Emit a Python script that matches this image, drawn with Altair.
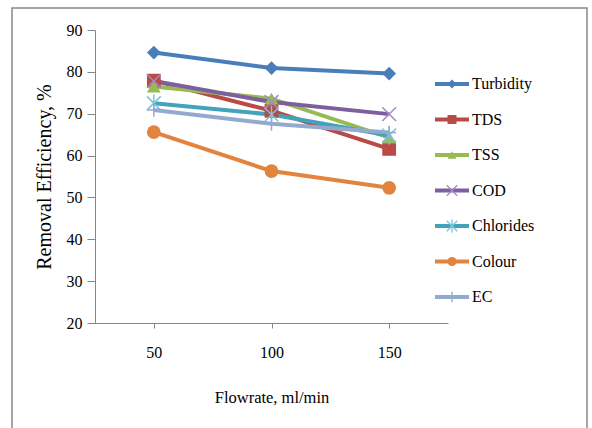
import altair as alt
import pandas as pd

# ---- data ----
flowrates = [50, 100, 150]
series = ["Turbidity", "TDS", "TSS", "COD", "Chlorides", "Colour", "EC"]
turbidity = [84.6, 80.9, 79.6]
tds = [77.9, 70.7, 61.6]
tss = [76.5, 73.6, 64.3]
cod = [77.8, 72.8, 69.9]
chlorides = [72.5, 69.8, 64.8]
colour = [65.6, 56.3, 52.3]
ec = [70.9, 67.6, 65.5]
y_ticks = [20, 30, 40, 50, 60, 70, 80, 90]

values = [turbidity, tds, tss, cod, chlorides, colour, ec]
rows = []
for s, vals in zip(series, values):
    for f, v in zip(flowrates, vals):
        rows.append({"series": s, "flow": f, "eff": v})
df = pd.DataFrame(rows)
legend_df = pd.DataFrame({"series": series})

# ---- styles ----
FONT = "Liberation Serif"
line_colors = ["#4A7EBB", "#B84A47", "#98B954", "#7D5FA0", "#43A2BC", "#E2843E", "#93A9D0"]
marker_colors = ["#4A7EBB", "#B84A47", "#98B954", "#A08CC4", "#7CC4DA", "#E2843E", "#93A9D0"]
X_PATH = "M-1,-1L1,1M-1,1L1,-1"
AST_PATH = "M-1,-1L1,1M-1,1L1,-1M0,-1.3L0,1.3"
PLUS_PATH = "M0,-1L0,1M-1,0L1,0"
shapes = ["diamond", "square", "triangle-up", X_PATH, AST_PATH, "circle", PLUS_PATH]
filled_series = ["Turbidity", "TDS", "TSS", "Colour"]
stroked_series = ["COD", "Chlorides", "EC"]

color_scale = alt.Scale(domain=series, range=line_colors)
stroke_scale = alt.Scale(domain=series, range=marker_colors)
shape_scale = alt.Scale(domain=series, range=shapes)

x_scale = alt.Scale(type="point", padding=0.5)
y_scale = alt.Scale(domain=[20, 90], nice=False, zero=False)

x_axis = alt.Axis(
    title="Flowrate, ml/min", labelAngle=0, tickSize=5, labelPadding=16,
    labelFontSize=16, labelFont=FONT, labelColor="black",
    titleFont=FONT, titleFontSize=16.5, titleFontWeight="normal", titleColor="black",
    titleX=176.5, titleY=74, titleAlign="center", titleBaseline="middle",
    domainColor="#868686", tickColor="#868686", grid=False,
)
y_axis = alt.Axis(
    title="Removal Efficiency, %", values=y_ticks, tickSize=8, labelPadding=5,
    labelFontSize=16, labelFont=FONT, labelColor="black",
    titleFont=FONT, titleFontSize=20, titleFontWeight="normal", titleColor="black",
    titleX=-51, titleY=146.5, titleAngle=270, titleAlign="center", titleBaseline="middle",
    domainColor="#868686", tickColor="#868686", grid=False,
)
x_enc = alt.X("flow:O", scale=x_scale, axis=x_axis)
y_enc = alt.Y("eff:Q", scale=y_scale, axis=y_axis)

lines = alt.Chart(df).mark_line(strokeWidth=4).encode(
    x=x_enc, y=y_enc,
    color=alt.Color("series:N", scale=color_scale, legend=None),
    detail="series:N",
)
pts_filled = alt.Chart(df).transform_filter(
    alt.FieldOneOfPredicate(field="series", oneOf=filled_series)
).mark_point(filled=True, size=190, opacity=1).encode(
    x=x_enc, y=y_enc,
    color=alt.Color("series:N", scale=color_scale, legend=None),
    shape=alt.Shape("series:N", scale=shape_scale, legend=None),
)
pts_stroked = alt.Chart(df).transform_filter(
    alt.FieldOneOfPredicate(field="series", oneOf=stroked_series)
).mark_point(filled=False, size=190, strokeWidth=1.5, opacity=1).encode(
    x=x_enc, y=y_enc,
    stroke=alt.Stroke("series:N", scale=stroke_scale, legend=None),
    shape=alt.Shape("series:N", scale=shape_scale, legend=None),
)
main = alt.layer(lines, pts_filled, pts_stroked)

# ---- manual legend (right of the plot) ----
leg_y = alt.Y("series:N", sort=series, scale=alt.Scale(type="point", domain=series, range=[54, 267], padding=0), axis=None)
leg_rule = alt.Chart(legend_df).mark_rule(strokeWidth=4).encode(
    x=alt.value(340), x2=alt.value(374), y=leg_y,
    color=alt.Color("series:N", scale=color_scale, legend=None),
)
leg_pts_f = alt.Chart(legend_df).transform_filter(
    alt.FieldOneOfPredicate(field="series", oneOf=filled_series)
).mark_point(filled=True, size=80, opacity=1).encode(
    x=alt.value(357), y=leg_y,
    color=alt.Color("series:N", scale=color_scale, legend=None),
    shape=alt.Shape("series:N", scale=shape_scale, legend=None),
)
leg_pts_s = alt.Chart(legend_df).transform_filter(
    alt.FieldOneOfPredicate(field="series", oneOf=stroked_series)
).mark_point(filled=False, size=110, strokeWidth=1.3, opacity=1).encode(
    x=alt.value(357), y=leg_y,
    stroke=alt.Stroke("series:N", scale=stroke_scale, legend=None),
    shape=alt.Shape("series:N", scale=shape_scale, legend=None),
)
leg_text = alt.Chart(legend_df).mark_text(
    align="left", baseline="middle", font=FONT, fontSize=16, color="black"
).encode(x=alt.value(377), y=leg_y, text="series:N")

frame = alt.Chart(pd.DataFrame({"k": [0]})).mark_rect(
    fillOpacity=0, stroke="#888888", strokeWidth=1.5
).encode(x=alt.value(-83), x2=alt.value(492), y=alt.value(-22), y2=alt.value(420))

legend = alt.layer(frame, leg_rule, leg_pts_f, leg_pts_s, leg_text)

chart = alt.layer(main, legend).resolve_scale(y="independent").properties(
    width=353, height=293,
    padding={"left": 95, "top": 30, "right": 144, "bottom": 105},
    autosize=alt.AutoSizeParams(type="none"),
    background="white",
).configure_view(stroke=None)

chart.save("out.html", embed_options={"renderer": "svg", "actions": False})
